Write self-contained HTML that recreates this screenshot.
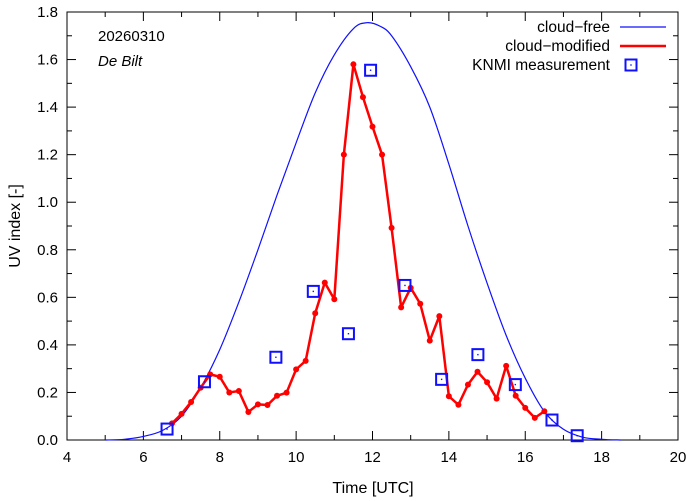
<!DOCTYPE html>
<html><head><meta charset="utf-8"><style>
html,body{margin:0;padding:0;background:#fff;}
svg{display:block;font-family:"Liberation Sans",sans-serif;}
</style></head><body>
<svg id="chart" width="694" height="501" xmlns="http://www.w3.org/2000/svg">
<g id="grid"></g>
<g id="series"></g>
<g id="legend"></g>
<text x="98" y="41" font-size="15">20260310</text>
<text x="98" y="66" font-size="15" font-style="italic">De Bilt</text>
<text x="373" y="493" font-size="16" text-anchor="middle">Time  [UTC]</text>
<text x="20" y="226" font-size="16" text-anchor="middle" transform="rotate(-90 20 226)">UV index  [-]</text>
</svg>
<script>
const cfTimes=[5.0,5.5,6.0,6.5,7.0,7.5,8.0,8.5,9.0,9.5,10.0,10.5,11.0,11.5,11.85,12.2,12.5,13.0,13.5,14.0,14.5,15.0,15.5,16.0,16.5,17.0,17.5,18.0,18.5];
const cfValues=[0,0.003,0.015,0.04,0.1,0.22,0.38,0.58,0.8,1.03,1.25,1.46,1.62,1.73,1.755,1.74,1.7,1.57,1.4,1.16,0.9,0.66,0.44,0.26,0.12,0.045,0.012,0.003,0];
const cmTimes=[6.75,7.0,7.25,7.5,7.75,8.0,8.25,8.5,8.75,9.0,9.25,9.5,9.75,10.0,10.25,10.5,10.75,11.0,11.25,11.5,11.75,12.0,12.25,12.5,12.75,13.0,13.25,13.5,13.75,14.0,14.25,14.5,14.75,15.0,15.25,15.5,15.75,16.0,16.25,16.5];
const cmValues=[0.07,0.11,0.16,0.22,0.276,0.266,0.2,0.206,0.118,0.15,0.147,0.186,0.199,0.297,0.333,0.533,0.662,0.592,1.2,1.58,1.442,1.318,1.2,0.892,0.558,0.64,0.573,0.418,0.521,0.184,0.148,0.233,0.287,0.243,0.174,0.312,0.186,0.135,0.093,0.121];
const mTimes=[6.62,7.6,9.47,10.45,11.37,11.95,12.85,13.81,14.76,15.74,16.7,17.36];
const mValues=[0.046,0.245,0.348,0.625,0.447,1.555,0.65,0.255,0.359,0.233,0.084,0.018];
const xTicks=[4,6,8,10,12,14,16,18,20];
const yTicks=[0,0.2,0.4,0.6,0.8,1.0,1.2,1.4,1.6,1.8];

const L=67,R=678,T=12,B=440;
const X=t=>L+(t-4)/16*(R-L);
const Y=v=>B-v/1.8*(B-T);
const NS='http://www.w3.org/2000/svg';
function mk(tag,parent,attrs){const e=document.createElementNS(NS,tag);for(const k in attrs)e.setAttribute(k,attrs[k]);parent.appendChild(e);return e;}
const grid=document.getElementById('grid'),ser=document.getElementById('series'),leg=document.getElementById('legend');

xTicks.forEach(t=>{
  const tk=mk('line',grid,{x1:X(t),x2:X(t),y1:B,y2:B-9,stroke:'#000'});
  
  
  mk('line',grid,{x1:X(t),x2:X(t),y1:T,y2:T+9,stroke:'#000'});
  const lb=mk('text',grid,{x:X(t),y:B+22,'font-size':15,'text-anchor':'middle'});
  lb.textContent=t;
  
  
});
for(let t=5;t<20;t+=2){
  mk('line',grid,{x1:X(t),x2:X(t),y1:B,y2:B-5,stroke:'#000'});
  mk('line',grid,{x1:X(t),x2:X(t),y1:T,y2:T+5,stroke:'#000'});
}
yTicks.forEach(v=>{
  mk('line',grid,{x1:L,x2:L+9,y1:Y(v),y2:Y(v),stroke:'#000'});
  mk('line',grid,{x1:R,x2:R-9,y1:Y(v),y2:Y(v),stroke:'#000'});
  const lb=mk('text',grid,{x:L-9,y:Y(v)+5,'font-size':15,'text-anchor':'end'});
  lb.textContent=v.toFixed(1);
  
  
});
for(let v=0.1;v<1.8;v+=0.2){
  mk('line',grid,{x1:L,x2:L+5,y1:Y(v),y2:Y(v),stroke:'#000'});
  mk('line',grid,{x1:R,x2:R-5,y1:Y(v),y2:Y(v),stroke:'#000'});
}
const frame=mk('rect',grid,{x:L,y:T,width:R-L,height:B-T,fill:'none',stroke:'#000'});



// smooth Catmull-Rom path through the cloud-free points
const P=cfTimes.map((t,i)=>[X(t),Y(cfValues[i])]);
let d='M'+P[0][0]+','+P[0][1];
for(let i=0;i<P.length-1;i++){
  const p0=P[Math.max(0,i-1)],p1=P[i],p2=P[i+1],p3=P[Math.min(P.length-1,i+2)];
  const c1=[p1[0]+(p2[0]-p0[0])/6,p1[1]+(p2[1]-p0[1])/6];
  const c2=[p2[0]-(p3[0]-p1[0])/6,p2[1]-(p3[1]-p1[1])/6];
  d+=' C'+c1[0]+','+c1[1]+' '+c2[0]+','+c2[1]+' '+p2[0]+','+p2[1];
}
const cf=mk('path',ser,{d:d,fill:'none',stroke:'#1010ff','stroke-width':1.2});


const cm=mk('polyline',ser,{points:cmTimes.map((t,i)=>X(t)+','+Y(cmValues[i])).join(' '),fill:'none',stroke:'#ff0000','stroke-width':2.5,'stroke-linejoin':'round'});


cmTimes.forEach((t,i)=>{
  const c=mk('circle',ser,{cx:X(t),cy:Y(cmValues[i]),r:3,fill:'#ff0000'});
  
  
});
mTimes.forEach((t,i)=>{
  const g=mk('g',ser,{});
  
  
  mk('rect',g,{x:X(t)-5.5,y:Y(mValues[i])-5.5,width:11,height:11,fill:'none',stroke:'#1010ff','stroke-width':2});
  mk('rect',g,{x:X(t)-0.7,y:Y(mValues[i])-0.7,width:1.4,height:1.4,fill:'#1010ff'});
});

const items=[['cloud\u2212free','cf'],['cloud\u2212modified','cm'],['KNMI measurement','m']];
items.forEach((it,i)=>{
  const y=27+i*19;
  const g=mk('g',leg,{});
  
  
  const tx=mk('text',g,{x:610,y:y+5,'font-size':15.5,'text-anchor':'end'});
  tx.textContent=it[0];
  if(it[1]==='cf')mk('line',g,{x1:620,x2:666,y1:y,y2:y,stroke:'#1010ff','stroke-width':1.2});
  if(it[1]==='cm')mk('line',g,{x1:620,x2:666,y1:y,y2:y,stroke:'#ff0000','stroke-width':2.5});
  if(it[1]==='m'){mk('rect',g,{x:625.5,y:y-5.5,width:11,height:11,fill:'none',stroke:'#1010ff','stroke-width':2});mk('rect',g,{x:630.3,y:y-0.7,width:1.4,height:1.4,fill:'#1010ff'});}
});
</script>
</body></html>
